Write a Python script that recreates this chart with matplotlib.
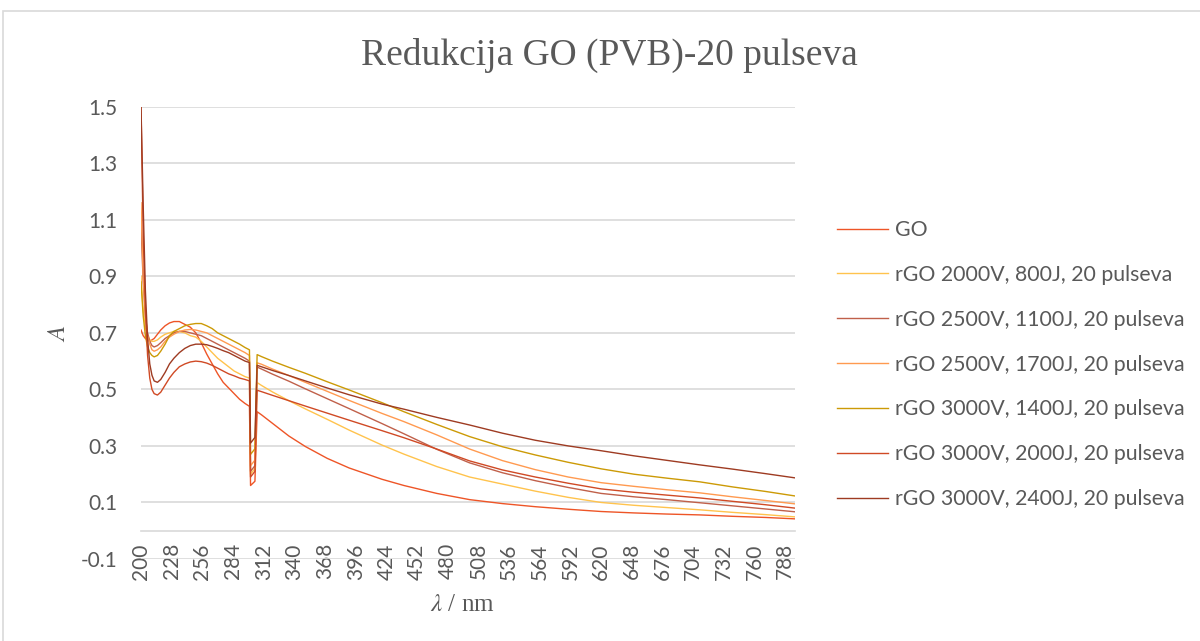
"""UV-Vis spectra of GO and laser-reduced rGO films (PVB), 20 pulses."""
import matplotlib

matplotlib.use("Agg")
import matplotlib.pyplot as plt
from matplotlib.patches import Rectangle

# wavelength grid the spectra were read on (nm)
wavelength = [200, 202, 204, 206, 208, 210, 212, 215, 218, 222, 226, 230, 235, 240,
              245, 250, 255, 260, 265, 270, 275, 280, 285, 290, 295, 299, 300, 304,
              306, 310, 320, 335, 350, 370, 390, 420, 440, 470, 500, 530, 560, 590,
              620, 650, 680, 710, 740, 770, 797]

go = [0.71, 0.69, 0.68, 0.675, 0.67, 0.675, 0.68, 0.695, 0.71, 0.725, 0.735, 0.74, 0.74, 0.73,
      0.72, 0.70, 0.665, 0.625, 0.59, 0.555, 0.525, 0.505, 0.485, 0.465, 0.45, 0.44, 0.16, 0.175,
      0.421, 0.41, 0.38, 0.335, 0.298, 0.256, 0.222, 0.182, 0.16, 0.132, 0.11, 0.096, 0.085, 0.076,
      0.068, 0.063, 0.059, 0.056, 0.051, 0.047, 0.042]
rgo_2000_800 = [0.90, 0.78, 0.72, 0.69, 0.675, 0.67, 0.67, 0.675, 0.685, 0.695, 0.70, 0.705, 0.705, 0.70,
                0.69, 0.685, 0.67, 0.65, 0.63, 0.61, 0.595, 0.58, 0.565, 0.555, 0.545, 0.54, 0.20, 0.22,
                0.524, 0.514, 0.491, 0.46, 0.431, 0.394, 0.356, 0.303, 0.271, 0.227, 0.19, 0.165, 0.14, 0.118,
                0.10, 0.09, 0.082, 0.074, 0.065, 0.057, 0.049]
rgo_2500_1100 = [1.08, 0.88, 0.76, 0.70, 0.67, 0.655, 0.65, 0.655, 0.665, 0.68, 0.69, 0.70, 0.705, 0.705,
                 0.70, 0.695, 0.69, 0.68, 0.67, 0.66, 0.65, 0.64, 0.63, 0.62, 0.61, 0.60, 0.21, 0.23,
                 0.579, 0.572, 0.554, 0.529, 0.502, 0.467, 0.432, 0.379, 0.343, 0.288, 0.24, 0.205, 0.177, 0.153,
                 0.132, 0.12, 0.11, 0.099, 0.088, 0.077, 0.067]
rgo_2500_1700 = [1.16, 0.90, 0.76, 0.69, 0.66, 0.64, 0.635, 0.64, 0.65, 0.67, 0.685, 0.695, 0.705, 0.71,
                 0.712, 0.71, 0.705, 0.70, 0.69, 0.68, 0.67, 0.66, 0.65, 0.64, 0.63, 0.62, 0.23, 0.25,
                 0.594, 0.589, 0.572, 0.549, 0.525, 0.493, 0.461, 0.415, 0.386, 0.339, 0.289, 0.248, 0.216, 0.19,
                 0.17, 0.157, 0.145, 0.134, 0.12, 0.107, 0.095]
rgo_3000_1400 = [0.88, 0.76, 0.69, 0.65, 0.63, 0.62, 0.615, 0.62, 0.635, 0.66, 0.69, 0.705, 0.715, 0.725,
                 0.73, 0.733, 0.733, 0.725, 0.715, 0.70, 0.69, 0.68, 0.67, 0.66, 0.648, 0.64, 0.27, 0.29,
                 0.623, 0.616, 0.60, 0.578, 0.557, 0.527, 0.498, 0.453, 0.421, 0.376, 0.333, 0.297, 0.268, 0.242,
                 0.219, 0.20, 0.186, 0.173, 0.155, 0.139, 0.123]
rgo_3000_2000 = [1.5, 1.05, 0.78, 0.62, 0.54, 0.50, 0.485, 0.48, 0.49, 0.515, 0.54, 0.56, 0.58, 0.59,
                 0.597, 0.60, 0.598, 0.593, 0.585, 0.575, 0.565, 0.555, 0.548, 0.54, 0.535, 0.53, 0.19, 0.21,
                 0.497, 0.492, 0.479, 0.46, 0.441, 0.416, 0.391, 0.354, 0.329, 0.289, 0.247, 0.215, 0.19, 0.168,
                 0.148, 0.136, 0.126, 0.116, 0.104, 0.092, 0.08]
rgo_3000_2400 = [1.5, 1.15, 0.85, 0.68, 0.59, 0.55, 0.53, 0.525, 0.535, 0.56, 0.59, 0.61, 0.63, 0.645,
                 0.655, 0.66, 0.66, 0.658, 0.652, 0.645, 0.637, 0.63, 0.62, 0.61, 0.60, 0.595, 0.31, 0.33,
                 0.585, 0.58, 0.567, 0.549, 0.53, 0.505, 0.481, 0.448, 0.43, 0.401, 0.374, 0.345, 0.32, 0.30,
                 0.283, 0.265, 0.249, 0.233, 0.218, 0.202, 0.187]

series_labels = ["GO",
                 "rGO 2000V, 800J, 20 pulseva",
                 "rGO 2500V, 1100J, 20 pulseva",
                 "rGO 2500V, 1700J, 20 pulseva",
                 "rGO 3000V, 1400J, 20 pulseva",
                 "rGO 3000V, 2000J, 20 pulseva",
                 "rGO 3000V, 2400J, 20 pulseva"]
series_colors = ["#EE5527", "#FFC34D", "#C0604A", "#FF9A50", "#CC9A06", "#D04A25", "#9E3B22"]

x_ticks = list(range(200, 789, 28))
y_ticks = [-0.1, 0.1, 0.3, 0.5, 0.7, 0.9, 1.1, 1.3, 1.5]

TEXT = "#595959"
GRID = "#D9D9D9"

plt.rcParams["mathtext.fontset"] = "stix"

W, H = 1200, 641
fig = plt.figure(figsize=(W / 100, H / 100), dpi=100)
# chart-area border like the Excel export
fig.patches.append(Rectangle((3 / W, -0.05), 1.2, 1 - 11 / H + 0.05, transform=fig.transFigure,
                             fill=False, edgecolor=GRID, linewidth=1.2))

left, right, top, bottom = 141, 795, 106.7, 559
ax = fig.add_axes([left / W, 1 - bottom / H, (right - left) / W, (bottom - top) / H])

all_series = [go, rgo_2000_800, rgo_2500_1100, rgo_2500_1700,
              rgo_3000_1400, rgo_3000_2000, rgo_3000_2400]
for values, label, color in zip(all_series, series_labels, series_colors):
    ax.plot(wavelength, values, color=color, linewidth=1.0, label=label)

ax.set_xlim(200, 797)
ax.set_ylim(-0.1, 1.5)
ax.set_yticks(y_ticks)
ax.set_yticklabels([f"{v:.1f}" for v in y_ticks])
ax.set_xticks(x_ticks)
ax.set_xticklabels([str(v) for v in x_ticks])
ax.grid(axis="y", color=GRID, linewidth=1.2)
ax.set_axisbelow(True)

for side in ("top", "right", "left"):
    ax.spines[side].set_visible(False)
ax.spines["bottom"].set_position(("data", 0))
ax.spines["bottom"].set_color(GRID)
ax.spines["bottom"].set_linewidth(1.2)

ax.tick_params(axis="x", length=0, pad=9, labelsize=15, labelcolor=TEXT, labelrotation=90)
ax.tick_params(axis="y", length=0, pad=17, labelsize=15, labelcolor=TEXT)
for lbl in ax.get_xticklabels() + ax.get_yticklabels():
    lbl.set_fontfamily("Lato")

fig.text(609 / W, 1 - 55 / H, "Redukcija GO (PVB)-20 pulseva", ha="center", va="center",
         fontsize=27, color=TEXT, family="Liberation Serif")
fig.text(462 / W, 1 - 605 / H, r"$\lambda$ / nm", ha="center", va="center",
         fontsize=18, color=TEXT, family="Liberation Serif")
fig.text(58 / W, 1 - 333 / H, r"$A$", ha="center", va="center", rotation=90,
         fontsize=18, color=TEXT)

leg = fig.legend(loc="upper left", bbox_to_anchor=(837 / W, 1 - 220 / H), frameon=False,
                 borderpad=0, borderaxespad=0, handlelength=2.4, handletextpad=0.33,
                 labelspacing=1.17, prop={"family": "Lato", "size": 15.3})
for text in leg.get_texts():
    text.set_color(TEXT)

fig.savefig("out.png", dpi=100)
